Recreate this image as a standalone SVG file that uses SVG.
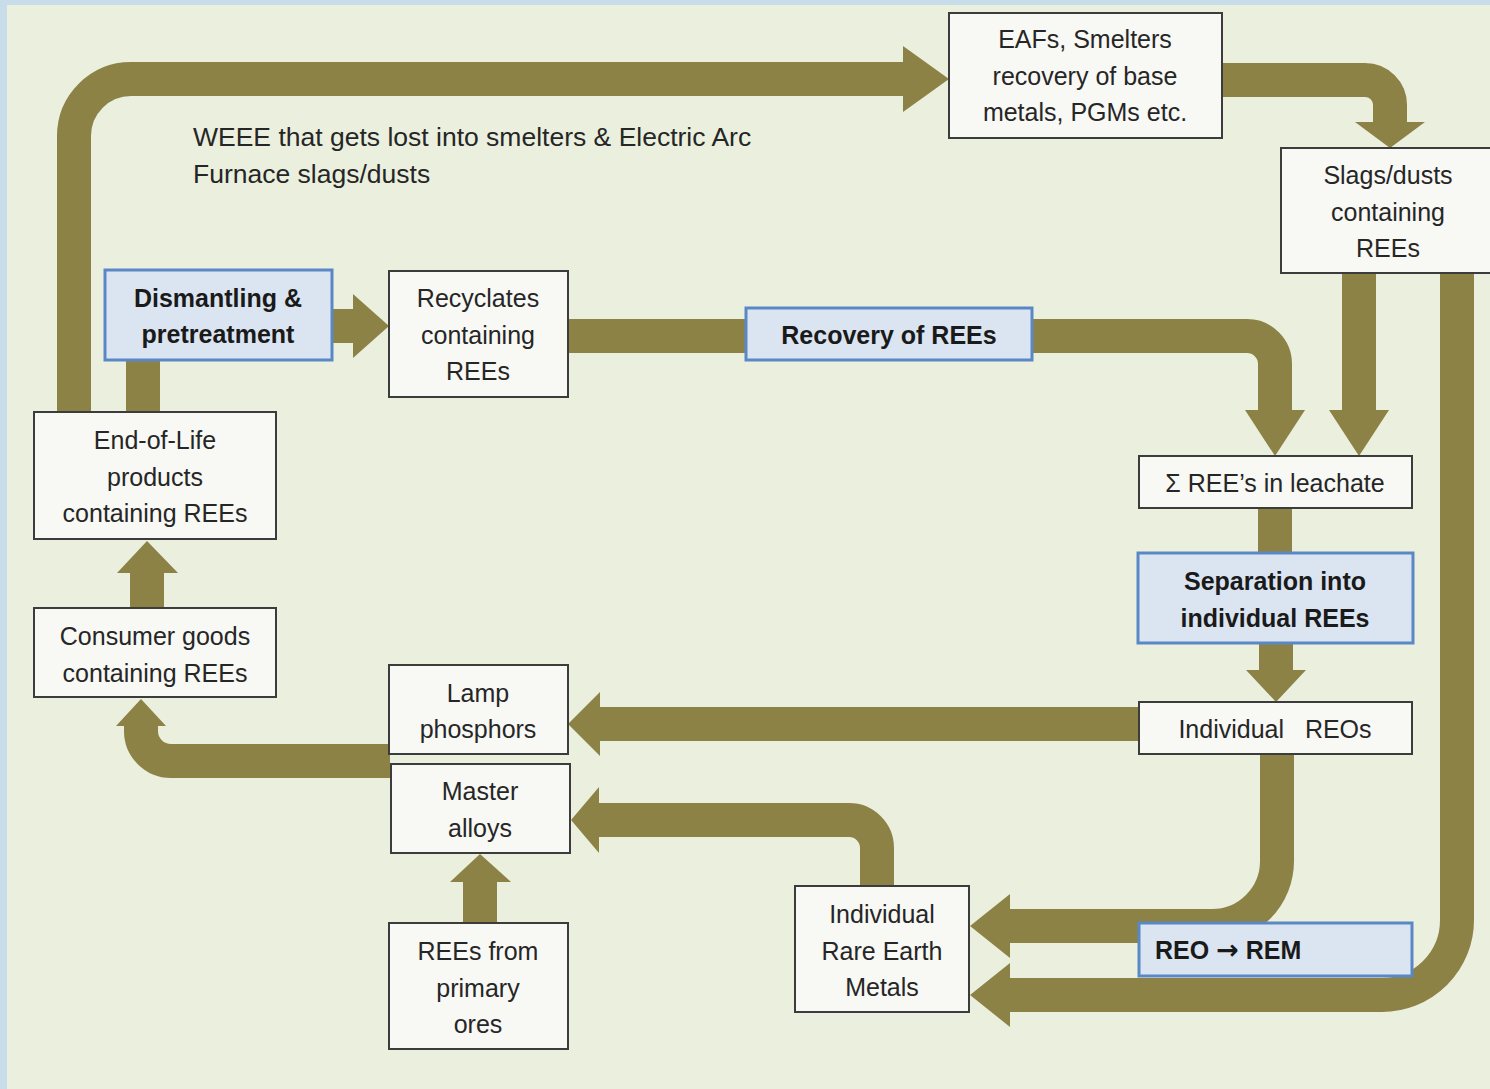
<svg xmlns="http://www.w3.org/2000/svg" width="1490" height="1089" viewBox="0 0 1490 1089">
<defs>
<style>
.bg{fill:#c7dde9}
.panel{fill:#ebf0de}
.band{fill:none;stroke:#8c8246;stroke-width:34;stroke-linecap:butt}
.head{fill:#8c8246}
.box{fill:#f8f8f5;stroke:#3c3c3c;stroke-width:2}
.bbox{fill:#dbe5f1;stroke:#5a87c5;stroke-width:3}
.t{font-family:"Liberation Sans",Arial,sans-serif;font-size:25px;fill:#262626;text-anchor:middle}
.b{font-family:"Liberation Sans",Arial,sans-serif;font-size:25px;font-weight:bold;fill:#1a1a1a;text-anchor:middle}
.free{font-family:"Liberation Sans",Arial,sans-serif;font-size:26.5px;fill:#262626}
</style>
</defs>
<rect class="bg" x="0" y="0" width="1490" height="1089"/>
<rect class="panel" x="7" y="5" width="1483" height="1084"/>

<g id="connectors">
<path class="band" d="M74,412 V136 A57,57 0 0 1 131,79 H905"/>
<polygon class="head" points="903,46 949,79 903,112"/>
<path class="band" d="M143,413 V359"/>
<path class="band" d="M331,326 H355"/>
<polygon class="head" points="353,294 389,326 353,358"/>
<path class="band" d="M567,336 H747"/>
<path class="band" d="M1031,336 H1247 A28,28 0 0 1 1275,364 V412"/>
<polygon class="head" points="1245,410 1275,456 1305,410"/>
<path class="band" d="M1221,80 H1365 A25,25 0 0 1 1390,105 V124"/>
<polygon class="head" points="1355,122 1390,148 1425,122"/>
<path class="band" d="M1359,272 V412"/>
<polygon class="head" points="1329,410 1359,456 1389,410"/>
<path class="band" d="M1457,272 V920 A75,75 0 0 1 1382,995 H1008"/>
<polygon class="head" points="1010,963 970,995 1010,1027"/>
<path class="band" d="M1275,507 V554"/>
<path class="band" d="M1276,642 V672"/>
<polygon class="head" points="1246,670 1276,702 1306,670"/>
<path class="band" d="M1277,753 V861 A65,65 0 0 1 1212,926 H1008"/>
<polygon class="head" points="1010,894 970,926 1010,958"/>
<path class="band" d="M1140,724 H598"/>
<polygon class="head" points="600,692 568,724 600,756"/>
<path class="band" d="M877,887 V848 A28,28 0 0 0 849,820 H597"/>
<polygon class="head" points="599,787 571,820 599,853"/>
<path class="band" d="M480,924 V880"/>
<polygon class="head" points="450,882 480,854 511,882"/>
<path class="band" d="M390,761 H171 A30,30 0 0 1 141,731 V724"/>
<polygon class="head" points="116,726 141,699 166,726"/>
<path class="band" d="M147,609 V571"/>
<polygon class="head" points="117,573 147,541 178,573"/>
</g>

<g id="label-weee">
<text class="free" x="193" y="146">WEEE that gets lost into smelters &amp; Electric Arc</text>
<text class="free" x="193" y="183">Furnace slags/dusts</text>
</g>

<g id="node-eafs">
<rect class="box" x="949" y="13" width="273" height="125"/>
<text class="t" x="1085" y="48">EAFs, Smelters</text>
<text class="t" x="1085" y="85">recovery of base</text>
<text class="t" x="1085" y="121">metals, PGMs etc.</text>
</g>

<g id="node-slags">
<rect class="box" x="1281" y="148" width="214" height="125"/>
<text class="t" x="1388" y="184">Slags/dusts</text>
<text class="t" x="1388" y="221">containing</text>
<text class="t" x="1388" y="257">REEs</text>
</g>

<g id="node-dismantling">
<rect class="bbox" x="105" y="270" width="227" height="90"/>
<text class="b" x="218" y="307">Dismantling &amp;</text>
<text class="b" x="218" y="343">pretreatment</text>
</g>

<g id="node-recyclates">
<rect class="box" x="389" y="271" width="179" height="126"/>
<text class="t" x="478" y="307">Recyclates</text>
<text class="t" x="478" y="344">containing</text>
<text class="t" x="478" y="380">REEs</text>
</g>

<g id="node-recovery">
<rect class="bbox" x="746" y="308" width="286" height="52"/>
<text class="b" x="889" y="344">Recovery of REEs</text>
</g>

<g id="node-eol">
<rect class="box" x="34" y="412" width="242" height="127"/>
<text class="t" x="155" y="449">End-of-Life</text>
<text class="t" x="155" y="486">products</text>
<text class="t" x="155" y="522">containing REEs</text>
</g>

<g id="node-leachate">
<rect class="box" x="1139" y="456" width="273" height="52"/>
<text class="t" x="1275" y="492">Σ REE’s in leachate</text>
</g>

<g id="node-separation">
<rect class="bbox" x="1138" y="553" width="275" height="90"/>
<text class="b" x="1275" y="590">Separation into</text>
<text class="b" x="1275" y="627">individual REEs</text>
</g>

<g id="node-consumer">
<rect class="box" x="34" y="608" width="242" height="89"/>
<text class="t" x="155" y="645">Consumer goods</text>
<text class="t" x="155" y="682">containing REEs</text>
</g>

<g id="node-lamp">
<rect class="box" x="389" y="665" width="179" height="89"/>
<text class="t" x="478" y="702">Lamp</text>
<text class="t" x="478" y="738">phosphors</text>
</g>

<g id="node-reos">
<rect class="box" x="1139" y="702" width="273" height="52"/>
<text class="t" x="1275" y="738" style="white-space:pre">Individual   REOs</text>
</g>

<g id="node-master">
<rect class="box" x="391" y="764" width="179" height="89"/>
<text class="t" x="480" y="800">Master</text>
<text class="t" x="480" y="837">alloys</text>
</g>

<g id="node-primary">
<rect class="box" x="389" y="923" width="179" height="126"/>
<text class="t" x="478" y="960">REEs from</text>
<text class="t" x="478" y="997">primary</text>
<text class="t" x="478" y="1033">ores</text>
</g>

<g id="node-irem">
<rect class="box" x="795" y="886" width="174" height="126"/>
<text class="t" x="882" y="923">Individual</text>
<text class="t" x="882" y="960">Rare Earth</text>
<text class="t" x="882" y="996">Metals</text>
</g>

<g id="node-reorem">
<rect class="bbox" x="1139" y="923" width="273" height="53"/>
<text class="b" style="text-anchor:start" x="1155" y="959">REO <tspan style="font-family:'DejaVu Sans',sans-serif;font-size:27px">→</tspan> REM</text>
</g>
</svg>
